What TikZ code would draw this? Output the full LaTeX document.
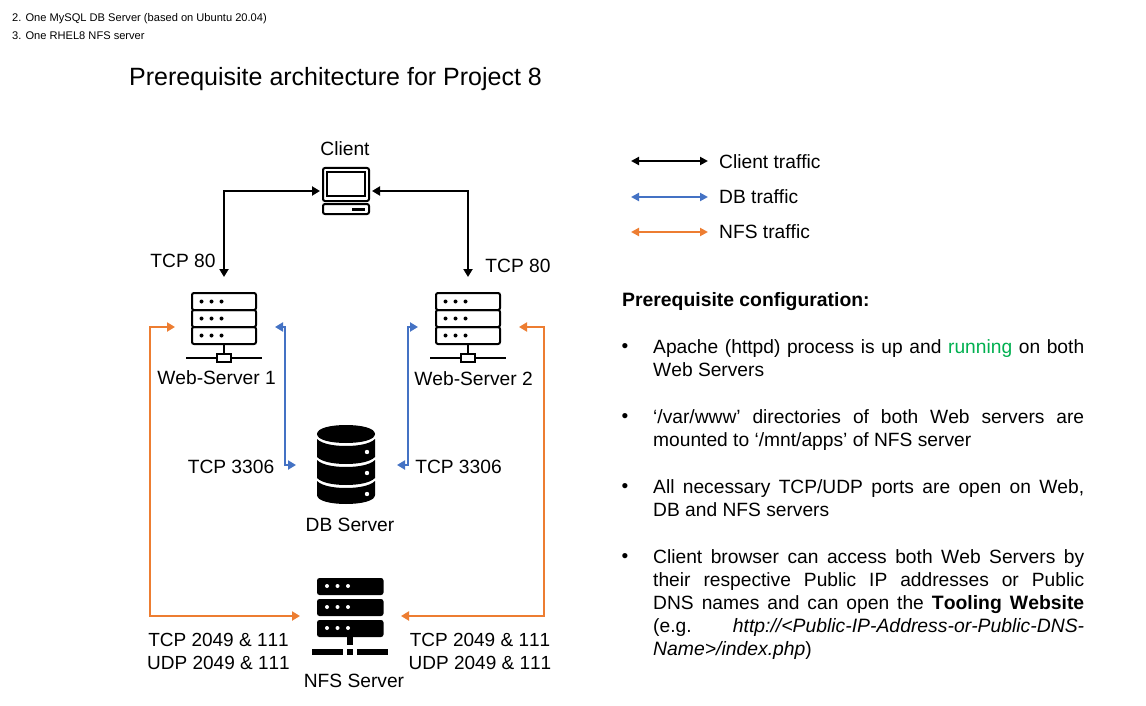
\documentclass[tikz,border=0pt]{standalone}
\usepackage{fontspec}
\setmainfont[Kerning=Off]{Liberation Sans}
\usetikzlibrary{arrows.meta}
\definecolor{bluet}{HTML}{4472C4}
\definecolor{oranget}{HTML}{ED7D31}
\definecolor{greent}{HTML}{00B050}
\newcommand{\fsz}{\fontsize{19.2}{23}\selectfont}
\newcommand{\fszb}{\fontsize{19.36}{23}\selectfont}
\tikzset{
  x=1pt,y=-1pt,
  lbl/.style={inner sep=0pt,font=\fsz,align=center},
  lbltwo/.style={inner sep=0pt,font=\fontsize{19}{23}\selectfont,align=center},
  small/.style={inner sep=0pt,anchor=west,font=\fontsize{11.1}{13}\selectfont},
  para/.style={inner sep=0pt,anchor=north west,text width=431pt,align=justify,font=\fsz},
  bull/.style={inner sep=0pt,font=\fsz},
  conn/.style={line width=2pt,black,{Triangle[length=8pt,width=9pt]}-{Triangle[length=8pt,width=9pt]}},
  dbc/.style={line width=2pt,bluet,{Triangle[length=8pt,width=9pt]}-{Triangle[length=8pt,width=9pt]}},
  nfsc/.style={line width=2pt,oranget,{Triangle[length=8pt,width=9pt]}-{Triangle[length=8pt,width=9pt]}},
  legk/.style={{Triangle[length=8pt,width=8pt]}-{Triangle[length=8pt,width=8pt]}},
  icon/.style={line width=2pt,black,rounded corners=2pt},
}
\newcommand{\webicon}[2]{%
  \foreach \yy in {0,17,34}{
    \draw[icon] (#1-32,#2+\yy) rectangle (#1+32,#2+\yy+17);
    \foreach \xx in {-22.5,-12.5,-2.5}{\fill (#1+\xx,#2+\yy+8.5) circle (2pt);}
  }
  \draw[line width=2pt] (#1,#2+51) -- (#1,#2+61);
  \draw[line width=2pt] (#1-38,#2+65) -- (#1-7,#2+65) (#1+7,#2+65) -- (#1+38,#2+65);
  \draw[line width=2pt] (#1-7,#2+61) rectangle (#1+7,#2+69);
}
\begin{document}
\begin{tikzpicture}
\useasboundingbox (0,0) rectangle (1146,706);
\fill[white] (0,0) rectangle (1146,706);

\node[small] (n1) at (12,18.5) {2. One MySQL DB Server (based on Ubuntu 20.04)};
\node[small] (n2) at (12,36) {3. One RHEL8 NFS server};
\node[inner sep=0pt,anchor=west,font=\fontsize{25}{30}\selectfont] (title) at (129,79.5) {Prerequisite architecture for Project 8};

% icon anchors
\node[inner sep=0pt,minimum width=48pt,minimum height=47pt] (client) at (345.5,191) {};
\node[inner sep=0pt,minimum width=65pt,minimum height=70pt] (web1) at (224,328) {};
\node[inner sep=0pt,minimum width=65pt,minimum height=70pt] (web2) at (468,328) {};
\node[inner sep=0pt,minimum width=60pt,minimum height=80pt] (db) at (346,465) {};
\node[inner sep=0pt,minimum width=76pt,minimum height=80pt] (nfs) at (350,617) {};

% Client icon
\draw[icon] (323,168) rectangle (369,201);
\draw[line width=2pt] (327,172) rectangle (365,196);
\draw[icon] (323,204) rectangle (369,214);
\fill (352,207.5) rectangle (365,210.5);

% Web servers
\webicon{224}{293}
\webicon{468}{293}

% DB icon
\fill (317,434) .. controls (317,428) and (331,425) .. (346,425) .. controls (361,425) and (375,428) .. (375,434) .. controls (375,440) and (361,443) .. (346,443) .. controls (331,443) and (317,440) .. (317,434) -- cycle;
\foreach \yy in {0,21}{
  \fill (317,\yy+439) .. controls (322,\yy+444) and (334,\yy+446) .. (346,\yy+446) .. controls (358,\yy+446) and (370,\yy+444) .. (375,\yy+439) -- (375,\yy+457) .. controls (370,\yy+462) and (358,\yy+464) .. (346,\yy+464) .. controls (334,\yy+464) and (322,\yy+462) .. (317,\yy+457) -- cycle;
}
\fill (317,481) .. controls (322,486) and (334,488) .. (346,488) .. controls (358,488) and (370,486) .. (375,481) -- (375,495) .. controls (375,501) and (361,504) .. (346,504) .. controls (331,504) and (317,501) .. (317,495) -- cycle;
\foreach \yy in {452,473,494}{\fill[white] (367,\yy) circle (2.2pt);}

% NFS icon
\foreach \yy in {578,599,620}{
  \fill[rounded corners=2.5pt] (317,\yy) rectangle (383.5,\yy+17);
  \foreach \xx in {327,337.5,348}{\fill[white] (\xx,\yy+8) circle (2pt);}
}
\fill (347,637) rectangle (353,645);
\fill (312,648.5) rectangle (343,655);
\fill (347,648.5) rectangle (353,655);
\fill (357,648.5) rectangle (387.5,655);

% connector end points and corners
\coordinate (w1n) at (224,277);
\coordinate (w2n) at (468,277);
\coordinate (c1) at (320,191);
\coordinate (c2) at (372,191);
\coordinate (w1be) at (275,327);
\coordinate (w1bc) at (285,327);
\coordinate (db1c) at (285,465);
\coordinate (db1) at (296,465);
\coordinate (w2bw) at (418,327);
\coordinate (w2bc) at (408,327);
\coordinate (db2c) at (408,465);
\coordinate (db2) at (397,465);
\coordinate (w1ow) at (175,327);
\coordinate (w1oc) at (150,327);
\coordinate (nfo1c) at (150,616);
\coordinate (nfo1) at (300,616);
\coordinate (w2oe) at (519,327);
\coordinate (w2oc) at (544,327);
\coordinate (nfo2c) at (544,616);
\coordinate (nfo2) at (401,616);

\draw[conn] (c1) -| (w1n);
\draw[conn] (c2) -| (w2n);
\draw[dbc] (w1be) -- (w1bc) -- (db1c) -- (db1);
\draw[dbc] (w2bw) -- (w2bc) -- (db2c) -- (db2);
\draw[nfsc] (w1ow) -- (w1oc) -- (nfo1c) -- (nfo1);
\draw[nfsc] (w2oe) -- (w2oc) -- (nfo2c) -- (nfo2);

% labels
\node[lbl] (lclient) at (345,149) {Client};
\node[lbl] (ltcp1) at (183,260.5) {TCP 80};
\node[lbl] (ltcp2) at (518,266) {TCP 80};
\node[lbl] (lw1) at (216.5,378) {Web-Server 1};
\node[lbl] (lw2) at (473.5,379) {Web-Server 2};
\node[lbl] (l3306a) at (231,467) {TCP 3306};
\node[lbl] (l3306b) at (458.5,467) {TCP 3306};
\node[lbl] (ldb) at (350,525) {DB Server};
\node[lbltwo] (lnfsa) at (218.5,651) {TCP 2049 \& 111\\UDP 2049 \& 111};
\node[lbltwo] (lnfsb) at (480,651) {TCP 2049 \& 111\\UDP 2049 \& 111};
\node[lbl] (lnfs) at (354,680.5) {NFS Server};

% legend
\coordinate (k1a) at (631,161); \coordinate (k1b) at (708,161);
\coordinate (k2a) at (631,197); \coordinate (k2b) at (708,197);
\coordinate (k3a) at (631,232); \coordinate (k3b) at (708,232);
\draw[legk,line width=2pt,black] (k1a) -- (k1b);
\draw[legk,line width=2pt,bluet] (k2a) -- (k2b);
\draw[legk,line width=2pt,oranget] (k3a) -- (k3b);
\node[inner sep=0pt,anchor=west,font=\fsz] (lk1) at (719,161.5) {Client traffic};
\node[inner sep=0pt,anchor=west,font=\fsz] (lk2) at (719,196.5) {DB traffic};
\node[inner sep=0pt,anchor=west,font=\fsz] (lk3) at (719,231.5) {NFS traffic};

% configuration
\node[inner sep=0pt,anchor=west,font=\fszb\bfseries] (cfg) at (622,302) {Prerequisite configuration:};
\node[bull] (b1) at (625,348) {•};
\node[bull] (b2) at (625,418) {•};
\node[bull] (b3) at (625,488) {•};
\node[bull] (b4) at (625,558) {•};
\node[para] (p1) at (653,339) {Apache (httpd) process is up and \textcolor{greent}{running} on both\linebreak Web Servers};
\node[para] (p2) at (653,409) {‘/var/www’ directories of both Web servers are\linebreak mounted to ‘/mnt/apps’ of NFS server};
\node[para] (p3) at (653,479) {All necessary TCP/UDP ports are open on Web,\linebreak DB and NFS servers};
\node[para] (p4) at (653,549) {Client browser can access both Web Servers by\linebreak their respective Public IP addresses or Public\linebreak DNS names and can open the {\fszb\textbf{Tooling Website}}\linebreak (e.g.\ \ \ \ \ \ \ \ {\fszb\textit{http://<Public-IP-Address-or-Public-DNS-}}\linebreak {\fszb\textit{Name>/index.php}})};
\end{tikzpicture}
\end{document}
